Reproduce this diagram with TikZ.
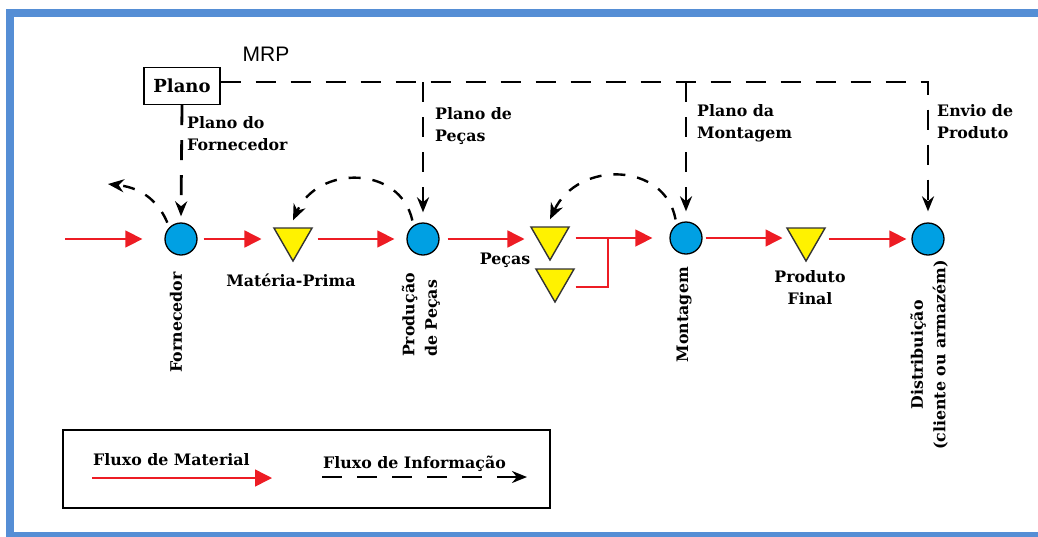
\documentclass[tikz,border=0pt]{standalone}
\usepackage{fontspec}
\setmainfont{DejaVu Serif}
\newfontfamily\mrpfont{Liberation Sans}
\usetikzlibrary{arrows.meta,shapes.geometric}
\definecolor{frameblue}{RGB}{85,142,213}
\definecolor{nodeblue}{RGB}{0,160,227}
\definecolor{triyellow}{RGB}{255,242,0}
\definecolor{matred}{RGB}{237,28,36}
\begin{document}
\begin{tikzpicture}[x=1pt,y=-1pt,
  lbl/.style={font=\bfseries\fontsize{15.8}{22.5}\selectfont, inner sep=0pt},
  circ/.style={circle, draw=black, line width=1.3pt, fill=nodeblue, minimum size=32pt, inner sep=0pt},
  tri/.style={regular polygon, regular polygon sides=3, shape border rotate=180, draw=black!80, line width=1.4pt, fill=triyellow, minimum size=44pt, inner sep=0pt},
  mat/.style={matred, line width=1.5pt, -{Triangle[length=17pt,width=17pt]}},
  matline/.style={matred, line width=1.5pt},
  info/.style={black, line width=2.8pt, dash pattern=on 20pt off 15pt, -{Stealth[length=15pt,width=12pt]}},
  infocurve/.style={black, line width=2.4pt, dash pattern=on 12pt off 12pt, -{Stealth[length=16pt,width=13pt]}},
]
\useasboundingbox (0,0) rectangle (1038,536);
\clip (0,0) rectangle (1038,536);
\draw[frameblue, line width=8pt] (10,13) rectangle (1070,536);

% nodes
\node[font=\mrpfont\fontsize{21}{24}\selectfont] (mrp) at (266,54) {MRP};
\node[draw, line width=1.3pt, minimum width=76pt, minimum height=37pt, font=\bfseries\fontsize{18}{20}\selectfont, inner sep=0pt] (plano) at (182,86) {Plano};

\node[circ] (forn) at (181,239) {};
\node[tri] (mp) at (293,239) {};
\node[circ] (prod) at (423,239) {};
\node[tri] (t1) at (550,238) {};
\node[tri] (t2) at (555,280) {};
\node[circ] (mont) at (686,238) {};
\node[tri] (pf) at (806,239) {};
\node[circ] (dist) at (928,239) {};

% labels
\node[lbl, anchor=north west, align=left] (lforn) at (187,116) {Plano do\\Fornecedor};
\node[lbl, anchor=north west, align=left] (lpec) at (435,107) {Plano de\\Peças};
\node[lbl, anchor=north west, align=left] (lmon) at (697,104) {Plano da\\Montagem};
\node[lbl, anchor=north west, align=left] (lenv) at (937,104) {Envio de\\Produto};

\node[lbl, anchor=base] (lmp) at (291,286) {Matéria-Prima};
\node[lbl, anchor=base] (lpecas) at (505,264) {Peças};
\node[lbl, anchor=north, align=center] (lpf) at (810,270) {Produto\\Final};

\node[lbl, rotate=90, anchor=east] (lforn2) at (176,272) {Fornecedor};
\node[lbl, rotate=90, anchor=east, align=left] (lprod) at (421,273) {Produção\\de Peças};
\node[lbl, rotate=90, anchor=east] (lmon2) at (684,267) {Montagem};
\node[lbl, rotate=90, align=center] (ldist) at (929,355) {Distribuição\\(cliente ou armazém)};

% material flow
\coordinate (in) at (65,239);
\draw[mat] (in) -- ([xshift=-22pt]forn.west);
\draw[mat] ([xshift=6pt]forn.east) -- ([xshift=-18pt]mp.west);
\draw[mat] ([xshift=11pt]mp.east) -- ([xshift=-12pt]prod.west);
\draw[mat] ([xshift=8pt]prod.east) -- ([xshift=-12pt,yshift=-1pt]t1.west);
\coordinate (join) at (608,238);
\draw[mat] ([xshift=12pt]t1.east) -- ([xshift=-17pt]mont.west);
\draw[matline] ([shift={(7pt,-7pt)}]t2.east) -| (join);
\draw[mat] ([xshift=3pt]mont.east) -- ([xshift=-10pt,yshift=1pt]pf.west);
\draw[mat] ([xshift=9pt]pf.east) -- ([xshift=-5pt]dist.west);

% information flow
\coordinate (topL) at ([yshift=4pt]plano.east);
\draw[info] (topL) -| ([yshift=11pt]dist.north);
\draw[info] (topL -| prod.north) -- ([yshift=10pt]prod.north);
\draw[info] (topL -| mont.north) -- ([yshift=10pt]mont.north);
\draw[info] (plano.south) -- ([yshift=6pt]forn.north);

\coordinate (outtip) at (108,184);
\draw[infocurve, shorten <=5pt] (forn.135) .. controls (160,205) and (145,188) .. (outtip);
\draw[infocurve, shorten <=5pt] (prod.125) .. controls (400,165) and (318,165) .. ([yshift=7pt]mp.north);
\draw[infocurve, shorten <=5pt] (mont.125) .. controls (665,162) and (578,160) .. ([yshift=7pt]t1.north);

% legend
\node[draw, line width=1.4pt, minimum width=487pt, minimum height=78pt, inner sep=0pt] (legend) at (306.5,469) {};
\node[lbl, anchor=base west] (lfm) at (93,465) {Fluxo de Material};
\node[lbl, anchor=base west] (lfi) at (323,468) {Fluxo de Informação};
\coordinate (ms) at (92,478);
\coordinate (me) at (272,478);
\coordinate (is) at (322,477);
\coordinate (ie) at (527,477);
\draw[mat] (ms) -- (me);
\draw[info, line width=2.4pt] (is) -- (ie);
\end{tikzpicture}
\end{document}
